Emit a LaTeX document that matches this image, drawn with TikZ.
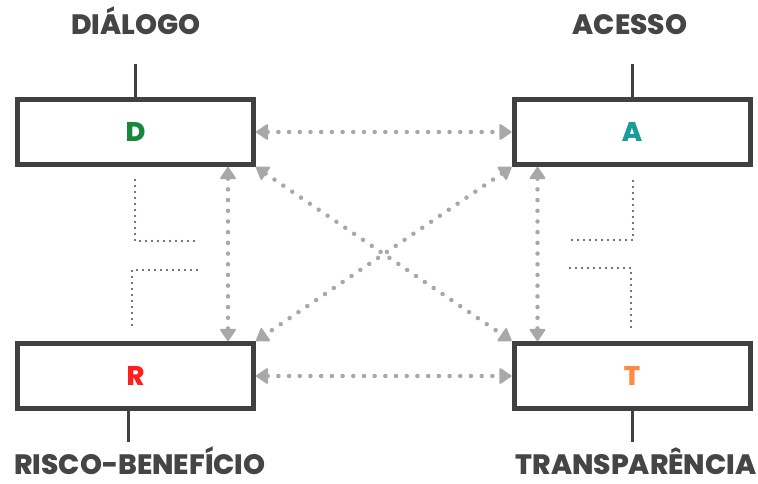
\documentclass[tikz,border=0pt]{standalone}
\usepackage{fontspec}
\setmainfont{Poppins}[BoldFont={Poppins ExtraBold}]
\usetikzlibrary{arrows.meta,calc}
\definecolor{boxgray}{HTML}{404040}
\definecolor{txtgray}{HTML}{454545}
\definecolor{dotgray}{HTML}{A8A8A8}
\definecolor{lettergreen}{HTML}{17873A}
\definecolor{letterteal}{HTML}{1D9A9A}
\definecolor{letterred}{HTML}{FF1F1F}
\definecolor{letterorange}{HTML}{FF8A45}
\tikzset{
  box/.style={draw=boxgray, line width=5pt, fill=white, minimum width=236pt,
    minimum height=65pt, inner sep=0pt, font=\bfseries\fontsize{27}{27}\selectfont},
  title/.style={text=txtgray, anchor=base, inner sep=0pt,
    font=\bfseries\fontsize{28}{28}\selectfont},
  stem/.style={draw=boxgray, line width=3pt},
  link/.style={draw=dotgray, line width=4.5pt, line cap=round,
    dash pattern=on 0pt off 10.7pt,
    >={Triangle[width=17pt,length=13pt,round,line width=2pt]}, <->},
  guide/.style={draw=txtgray, line width=2.2pt, line cap=round,
    dash pattern=on 0pt off 6pt}
}

\begin{document}
\begin{tikzpicture}[x=1pt,y=-1pt]
    \useasboundingbox (0,0) rectangle (758,484);

    % the four boxes
    \foreach \n/\x/\y/\c in {D/135.5/132/lettergreen, A/632/132/letterteal,
                             R/135.5/376/letterred, T/632/376/letterorange}
        \node[box, text=\c] (\n) at (\x,\y) {\n};

    % titles
    \node[title] (dlab) at (136,35) {DIÁLOGO};
    \node[title] (alab) at (630,35) {ACESSO};
    \node[title] (rlab) at (140,474) {RISCO-BENEFÍCIO};
    \node[title] (tlab) at (636,474) {TRANSPARÊNCIA};

    % stems
    \coordinate (dtop) at (135.5,64);
    \coordinate (atop) at (632,64);
    \coordinate (rbot) at (128,442);
    \coordinate (tbot) at (632,442);
    \draw[stem] (D.north) -- (dtop);
    \draw[stem] (A.north) -- (atop);
    \draw[stem] (R.south -| rbot) -- (rbot);
    \draw[stem] (T.south) -- (tbot);

    % dotted guides
    \draw[guide] (135,180) -- (135,241) -- (197,241);
    \draw[guide] (197,270) -- (132,270) -- (132,328);
    \draw[guide] (633,181) -- (633,240) -- (570,240);
    \draw[guide] (570,268) -- (631,268) -- (631,329);

    % links
    \draw[link] (D.east) -- (A.west);
    \draw[link] (R.east) -- (T.west);
    \draw[link] ([xshift=-28pt]D.south east) -- ([xshift=-28pt]R.north east);
    \draw[link] ([xshift=26pt]A.south west) -- ([xshift=26pt]T.north west);
    \draw[link] (D.south east) -- (T.north west);
    \draw[link] (A.south west) -- (R.north east);
\end{tikzpicture}
\end{document}
